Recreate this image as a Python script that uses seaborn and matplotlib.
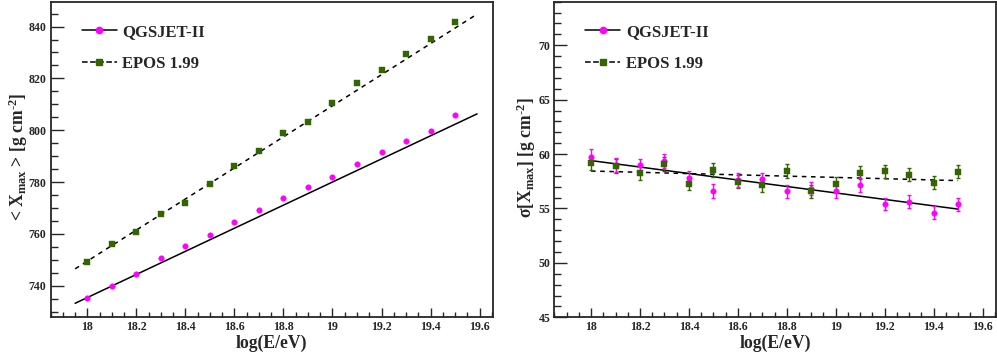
import numpy as np
import pandas as pd
import seaborn as sns
import matplotlib.pyplot as plt
from matplotlib.lines import Line2D
from matplotlib.ticker import MultipleLocator

# Data
log_e = [18.0, 18.1, 18.2, 18.3, 18.4, 18.5, 18.6, 18.7,
         18.8, 18.9, 19.0, 19.1, 19.2, 19.3, 19.4, 19.5]

# <Xmax>
xmax_qgsjet = [735.4, 739.9, 744.6, 750.6, 755.4, 759.6, 764.6, 769.2,
               773.7, 778.0, 781.8, 786.8, 791.4, 795.9, 799.7, 805.9]
xmax_epos = [749.3, 756.1, 760.6, 767.8, 771.9, 779.3, 786.0, 791.8,
             798.9, 803.3, 810.5, 818.3, 823.2, 829.5, 835.1, 841.9]

# sigma[Xmax]
sigma_qgsjet = [59.73, 59.0, 58.97, 59.40, 57.80, 56.60, 57.59, 57.68,
                56.60, 56.83, 56.58, 57.16, 55.42, 55.60, 54.60, 55.37]
sigma_qgsjet_err = [0.69, 0.65, 0.62, 0.65, 0.62, 0.61, 0.63, 0.62,
                    0.60, 0.62, 0.63, 0.62, 0.58, 0.60, 0.60, 0.58]
sigma_epos = [59.18, 58.90, 58.26, 59.05, 57.29, 58.57, 57.47, 57.16,
              58.43, 56.58, 57.29, 58.30, 58.42, 58.11, 57.38, 58.39]
sigma_epos_err = [0.67, 0.66, 0.66, 0.64, 0.62, 0.64, 0.63, 0.62,
                  0.62, 0.60, 0.61, 0.60, 0.60, 0.58, 0.60, 0.60]

# fitted lines (end points)
fit_x_mean = [17.95, 19.59]
fit_mean_qgsjet = [733.2, 806.3]
fit_mean_epos = [746.5, 844.8]
fit_x_sigma = [18.0, 19.5]
fit_sigma_qgsjet = [59.40, 54.94]
fit_sigma_epos = [58.44, 57.56]

models = ['QGSJET-II', 'EPOS 1.99']
colors = {'QGSJET-II': '#ff00ff', 'EPOS 1.99': '#336600'}
markers = {'QGSJET-II': 'o', 'EPOS 1.99': 's'}
styles = {'QGSJET-II': '-', 'EPOS 1.99': '--'}

n = len(log_e)
points = pd.DataFrame({
    'logE': log_e * 2,
    'model': ['QGSJET-II'] * n + ['EPOS 1.99'] * n,
    'mean': xmax_qgsjet + xmax_epos,
    'sigma': sigma_qgsjet + sigma_epos,
    'err': sigma_qgsjet_err + sigma_epos_err,
})
fit_mean = pd.DataFrame({
    'logE': fit_x_mean * 2,
    'model': ['QGSJET-II'] * 2 + ['EPOS 1.99'] * 2,
    'val': fit_mean_qgsjet + fit_mean_epos,
})
fit_sigma = pd.DataFrame({
    'logE': fit_x_sigma * 2,
    'model': ['QGSJET-II'] * 2 + ['EPOS 1.99'] * 2,
    'val': fit_sigma_qgsjet + fit_sigma_epos,
})

sns.set_style('ticks')
plt.rcParams['font.family'] = ['Liberation Serif', 'DejaVu Serif']
plt.rcParams['font.weight'] = 'bold'
plt.rcParams['mathtext.fontset'] = 'custom'
plt.rcParams['mathtext.rm'] = 'Liberation Serif:bold'
plt.rcParams['mathtext.bf'] = 'Liberation Serif:bold'
plt.rcParams['mathtext.it'] = 'Liberation Serif:bold'

fig = plt.figure(figsize=(9.97, 3.59), dpi=100)
ax1 = fig.add_axes([0.0508, 0.1162, 0.4437, 0.8791])
ax2 = fig.add_axes([0.5560, 0.1162, 0.4430, 0.8791])

# left panel: mean Xmax
sns.lineplot(data=fit_mean, x='logE', y='val', hue='model', style='model',
             palette={m: 'black' for m in models}, dashes={'QGSJET-II': '', 'EPOS 1.99': (3, 3)},
             linewidth=1.1, legend=False, ax=ax1)
for m in models:
    sub = points[points['model'] == m]
    sns.scatterplot(data=sub, x='logE', y='mean', color=colors[m], marker=markers[m],
                    s=16, edgecolor=colors[m], linewidth=0.3, legend=False, ax=ax1, zorder=3)

# right panel: sigma Xmax
sns.lineplot(data=fit_sigma, x='logE', y='val', hue='model', style='model',
             palette={m: 'black' for m in models}, dashes={'QGSJET-II': '', 'EPOS 1.99': (3, 3)},
             linewidth=1.1, legend=False, ax=ax2)
for m in ['EPOS 1.99', 'QGSJET-II']:
    sub = points[points['model'] == m]
    ax2.errorbar(sub['logE'], sub['sigma'], yerr=sub['err'], fmt='none',
                 ecolor=colors[m], elinewidth=1.0, capsize=1.2, zorder=2)
for m in ['QGSJET-II', 'EPOS 1.99']:
    sub = points[points['model'] == m]
    sns.scatterplot(data=sub, x='logE', y='sigma', color=colors[m], marker=markers[m],
                    s=16, edgecolor=colors[m], linewidth=0.3, legend=False, ax=ax2, zorder=3)

ax1.set_xlim(17.85, 19.655)
ax1.set_ylim(727.8, 849.6)
ax2.set_xlim(17.85, 19.655)
ax2.set_ylim(45, 74)

ax1.yaxis.set_major_locator(MultipleLocator(20))
ax1.yaxis.set_minor_locator(MultipleLocator(5))
ax2.yaxis.set_major_locator(MultipleLocator(5))
ax2.yaxis.set_minor_locator(MultipleLocator(1))

for ax in (ax1, ax2):
    ax.xaxis.set_major_locator(MultipleLocator(0.2))
    ax.xaxis.set_minor_locator(MultipleLocator(0.05))
    ax.set_xticks([18.0, 18.2, 18.4, 18.6, 18.8, 19.0, 19.2, 19.4, 19.6])
    ax.set_xticklabels(['18', '18.2', '18.4', '18.6', '18.8', '19', '19.2', '19.4', '19.6'])
    ax.tick_params(axis='x', which='major', direction='in', length=6.8, width=1.0,
                   labelsize=8.6, pad=3)
    ax.tick_params(axis='x', which='minor', direction='in', length=3.4, width=1.0)
    ax.tick_params(axis='y', which='major', direction='in', length=9.4, width=1.0,
                   labelsize=8.6, pad=3)
    ax.tick_params(axis='y', which='minor', direction='in', length=4.7, width=1.0)
    for sp in ax.spines.values():
        sp.set_linewidth(1.3)
        sp.set_visible(True)
    ax.set_xlabel('log(E/eV)', fontsize=12.7, fontweight='bold', labelpad=1)

    handles = [Line2D([], [], color='black', linestyle=styles[m], linewidth=1.1,
                      marker=markers[m], markerfacecolor=colors[m],
                      markeredgecolor=colors[m], markersize=4.5) for m in models]
    leg = ax.legend(handles, models, loc='upper left', bbox_to_anchor=(0.07, 0.93),
                    frameon=False, fontsize=12, handlelength=2.1, handletextpad=0.35,
                    labelspacing=0.95, borderpad=0, borderaxespad=0, numpoints=1)
    for t in leg.get_texts():
        t.set_fontweight('bold')

ax1.set_ylabel(r'< X$_{\rm max}$ > [g cm$^{\text{-2}}$]', fontsize=12.7, fontweight='bold')
ax1.yaxis.set_label_coords(-0.047, 0.508)
ax2.set_ylabel(r'$\sigma$[X$_{\rm max}$] [g cm$^{\text{-2}}$]', fontsize=12.7, fontweight='bold')
ax2.yaxis.set_label_coords(-0.036, 0.507)

plt.savefig('out.png', dpi=100)
plt.close()
